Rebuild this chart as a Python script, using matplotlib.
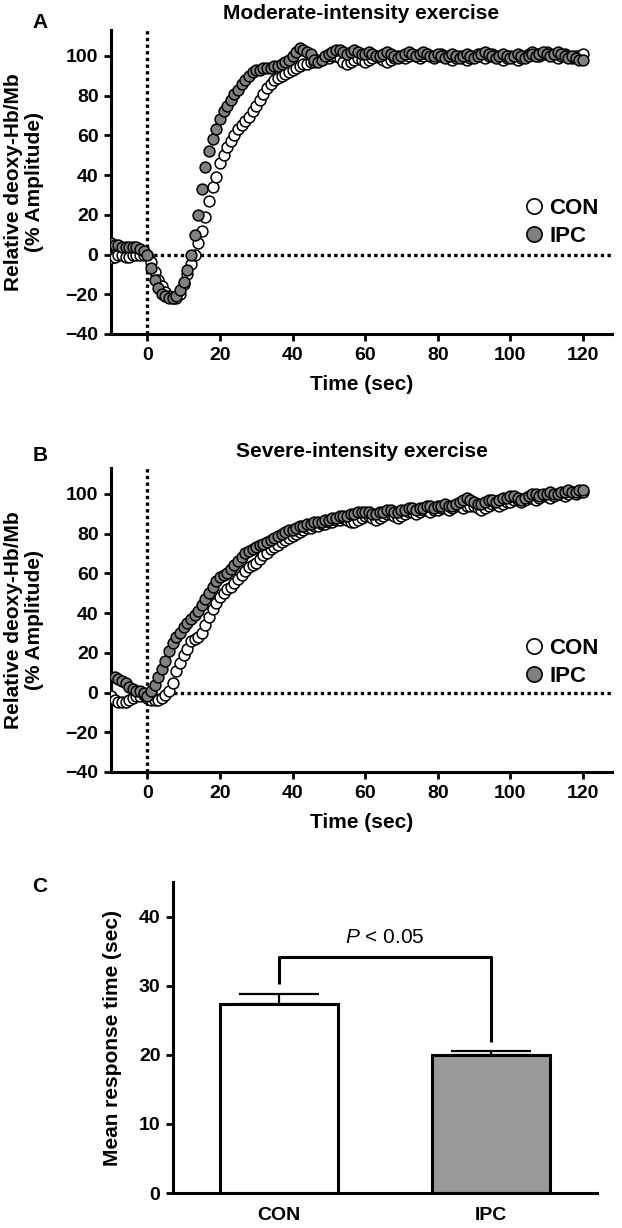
import matplotlib
matplotlib.use("Agg")
import numpy as np
import matplotlib.pyplot as plt
from matplotlib.lines import Line2D

plt.rcParams['font.family'] = ['Liberation Sans', 'DejaVu Sans']
plt.rcParams['font.weight'] = 'bold'
plt.rcParams['axes.titleweight'] = 'bold'
plt.rcParams['axes.labelweight'] = 'bold'
plt.rcParams['mathtext.fontset'] = 'custom'
plt.rcParams['mathtext.it'] = 'Liberation Sans:italic:normal'
plt.rcParams['mathtext.rm'] = 'Liberation Sans:normal'

# =============================================================================
# DATA (1-s samples from -10 to 120 s)
# =============================================================================
time_sec = np.arange(-10, 121)

moderate_con = [
    -2, -1, 0, 0, -1, -1, 0, 0, 0, 0,
    0, -4, -9, -13, -16, -19, -21, -22, -22, -20,
    -15, -10, -5, 0, 6, 12, 19, 27, 34, 39,
    46, 50, 54, 57, 60, 63, 65, 67, 69, 72,
    75, 78, 81, 84, 86, 88, 89, 90, 91, 92,
    93, 94, 95, 96, 96, 97, 97, 98, 98, 99,
    99, 100, 100, 99, 97, 96, 97, 98, 99, 98,
    97, 98, 99, 100, 99, 98, 97, 98, 99, 100,
    100, 99, 100, 101, 100, 99, 100, 101, 100, 99,
    100, 101, 100, 99, 98, 99, 100, 99, 98, 99,
    100, 101, 100, 99, 100, 101, 100, 99, 98, 99,
    100, 99, 98, 99, 100, 101, 102, 101, 100, 101,
    102, 101, 100, 99, 100, 101, 100, 99, 100, 100,
    101]

moderate_ipc = [
    6, 5, 5, 4, 4, 4, 4, 4, 3, 2,
    0, -7, -13, -17, -20, -21, -22, -22, -21, -18,
    -14, -8, 0, 10, 20, 33, 44, 52, 58, 63,
    68, 72, 75, 78, 81, 83, 86, 88, 90, 92,
    93, 93, 94, 94, 94, 95, 95, 96, 97, 98,
    100, 102, 104, 103, 102, 101, 98, 97, 98, 100,
    101, 102, 103, 103, 102, 101, 102, 103, 102, 101,
    101, 102, 101, 100, 100, 101, 102, 101, 100, 99,
    100, 101, 102, 101, 100, 101, 102, 101, 100, 100,
    101, 100, 99, 100, 101, 100, 99, 100, 101, 100,
    99, 100, 101, 102, 101, 100, 99, 100, 101, 100,
    99, 100, 101, 100, 99, 100, 101, 100, 101, 102,
    101, 100, 101, 102, 101, 100, 99, 100, 99, 98,
    98]

severe_con = [
    -2, -4, -5, -5, -5, -4, -3, -2, -2, -1,
    -3, -4, -4, -4, -3, -1, 1, 5, 11, 15,
    19, 22, 26, 27, 28, 30, 34, 38, 42, 45,
    48, 50, 52, 53, 55, 57, 59, 61, 63, 64,
    65, 67, 69, 70, 72, 73, 74, 76, 77, 78,
    79, 80, 81, 82, 83, 83, 84, 84, 85, 85,
    86, 86, 87, 87, 88, 87, 86, 86, 87, 88,
    89, 89, 88, 87, 88, 89, 90, 90, 89, 88,
    89, 90, 91, 91, 90, 91, 92, 92, 91, 92,
    92, 93, 93, 92, 93, 94, 94, 93, 94, 94,
    94, 93, 92, 93, 94, 95, 95, 94, 95, 96,
    96, 97, 97, 96, 97, 98, 98, 97, 98, 99,
    99, 98, 99, 100, 100, 99, 100, 101, 100, 101,
    101]

severe_ipc = [
    8, 8, 7, 6, 5, 3, 2, 1, 1, 0,
    -2, 1, 4, 8, 12, 16, 21, 25, 28, 30,
    33, 35, 37, 39, 41, 44, 47, 50, 53, 56,
    58, 59, 60, 62, 64, 66, 68, 70, 71, 72,
    73, 74, 75, 76, 77, 78, 79, 80, 81, 82,
    82, 83, 84, 84, 85, 85, 86, 86, 86, 87,
    87, 88, 88, 89, 89, 89, 90, 90, 91, 91,
    91, 91, 90, 90, 91, 91, 92, 92, 91, 91,
    92, 92, 93, 93, 92, 93, 93, 94, 94, 93,
    94, 94, 95, 94, 94, 95, 96, 97, 98, 97,
    96, 95, 95, 96, 97, 97, 96, 97, 98, 98,
    99, 99, 98, 97, 98, 99, 100, 100, 99, 100,
    100, 101, 100, 100, 101, 101, 102, 101, 101, 102,
    102]

groups = ["CON", "IPC"]
mrt_mean = [27.3, 19.9]
mrt_sem = [1.5, 0.7]
bracket_y = [30.3, 34.1, 21.8]   # left foot, top, right foot
p_label_y = 37.0

W, H = 622, 1228
CON_STYLE = dict(mfc='white', mec='black')
IPC_STYLE = dict(mfc='#808080', mec='black')


def px_axes(fig, left, top, right, bottom):
    return fig.add_axes([left / W, 1 - bottom / H, (right - left) / W, (bottom - top) / H])


def style_axes(ax):
    for s in ['top', 'right']:
        ax.spines[s].set_visible(False)
    for s in ['left', 'bottom']:
        ax.spines[s].set_linewidth(2.2)
    ax.tick_params(width=2, length=5, labelsize=14, pad=4)


def plot_time_panel(ax, con, ipc, title):
    style_axes(ax)
    ax.set_xlim(-10, 128)
    ax.set_ylim(-40, 113)
    ax.axvline(0, color='black', lw=2.4, ls=(0, (1, 1)), zorder=1)
    ax.hlines(0, 0, 128, color='black', lw=2.4, ls=(0, (1, 1)), zorder=1)
    ax.plot(time_sec, con, 'o', ms=7.8, mew=1.1, ls='none', zorder=3, **CON_STYLE)
    ax.plot(time_sec, ipc, 'o', ms=7.8, mew=1.1, ls='none', zorder=4, **IPC_STYLE)
    ax.set_xticks(range(0, 121, 20))
    ax.set_yticks(range(-40, 101, 20))
    ax.set_yticklabels(['\u221240', '\u221220', '0', '20', '40', '60', '80', '100'])
    ax.set_xlabel('Time (sec)', fontsize=15, labelpad=8)
    ax.set_title(title, fontsize=15, pad=8)


fig = plt.figure(figsize=(W / 100, H / 100), dpi=100)

axA = px_axes(fig, 111, 30, 612, 334)
plot_time_panel(axA, moderate_con, moderate_ipc, 'Moderate-intensity exercise')
axB = px_axes(fig, 111, 468, 612, 772)
plot_time_panel(axB, severe_con, severe_ipc, 'Severe-intensity exercise')

handles = [Line2D([], [], marker='o', ls='none', ms=11, mew=1.2, **CON_STYLE),
           Line2D([], [], marker='o', ls='none', ms=11, mew=1.2, **IPC_STYLE)]
for ax, yc in [(axA, 0.367), (axB, 0.360)]:
    ax.legend(handles, groups, loc='center left', bbox_to_anchor=(0.826, yc),
              frameon=False, handlelength=0.8, handletextpad=0.3, labelspacing=0.3,
              borderpad=0, borderaxespad=0, prop={'size': 16, 'weight': 'bold'})

ylab = 'Relative deoxy-Hb/Mb\n(% Amplitude)'
fig.text(24 / W, 1 - 182 / H, ylab, rotation=90, ha='center', va='center',
         fontsize=15, multialignment='center', linespacing=1.1)
fig.text(24 / W, 1 - 620 / H, ylab, rotation=90, ha='center', va='center',
         fontsize=15, multialignment='center', linespacing=1.1)

# Panel C - bar chart
axC = px_axes(fig, 173, 882, 597, 1193)
style_axes(axC)
x = np.arange(len(groups))
axC.bar(x, mrt_mean, width=0.555, color=['white', '#999999'], edgecolor='black',
        linewidth=2.2, zorder=2)
axC.errorbar(x, mrt_mean, yerr=[[0, 0], mrt_sem], fmt='none', ecolor='black',
             elinewidth=1.6, capsize=29, capthick=1.6, zorder=1)
axC.plot([x[0], x[0], x[1], x[1]], [bracket_y[0], bracket_y[1], bracket_y[1], bracket_y[2]],
         color='black', lw=2.2, solid_capstyle='butt')
axC.text((x[0] + x[1]) / 2, p_label_y, r'$\mathit{P}$ < 0.05', ha='center', va='center',
         fontsize=15, fontweight='normal')
axC.set_xlim(-0.5, 1.5)
axC.set_ylim(0, 45)
axC.set_yticks(range(0, 41, 10))
axC.set_xticks(x)
axC.set_xticklabels(groups)
axC.tick_params(axis='x', length=0, pad=10, labelsize=14)
axC.set_ylabel('Mean response time (sec)', fontsize=15, labelpad=12)

fig.text(40 / W, 1 - 22 / H, 'A', fontsize=15, ha='center', va='center')
fig.text(40 / W, 1 - 456 / H, 'B', fontsize=15, ha='center', va='center')
fig.text(40 / W, 1 - 887 / H, 'C', fontsize=15, ha='center', va='center')

fig.savefig('out.png', dpi=100)
